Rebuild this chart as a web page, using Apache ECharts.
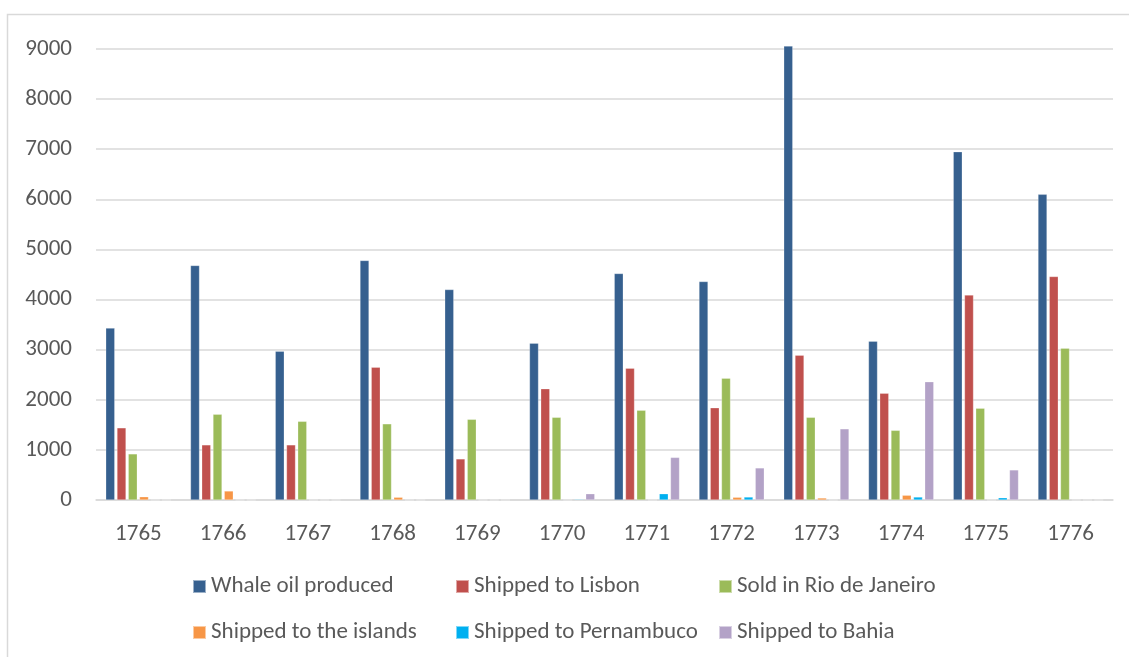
<!DOCTYPE html>
<html>
<head>
<meta charset="utf-8">
<script src="https://cdn.jsdelivr.net/npm/echarts@6/dist/echarts.min.js"></script>
<style>
  html, body { margin: 0; padding: 0; background: #fff; }
  #chart { width: 1129px; height: 657px; }
</style>
</head>
<body>
<div id="chart"></div>
<script>
// data
const years = ['1765', '1766', '1767', '1768', '1769', '1770', '1771', '1772', '1773', '1774', '1775', '1776']
const whaleOil = [3430, 4680, 2970, 4780, 4200, 3130, 4520, 4360, 9060, 3170, 6950, 6100]
const lisbon = [1440, 1100, 1100, 2650, 820, 2220, 2630, 1840, 2890, 2130, 4090, 4460]
const rio = [920, 1710, 1570, 1520, 1610, 1650, 1790, 2430, 1650, 1390, 1830, 3030]
const islands = [65, 180, 0, 55, 0, 0, 0, 55, 40, 95, 0, 0]
const pernambuco = [0, 0, 0, 0, 0, 15, 125, 60, 0, 60, 45, 0]
const bahia = [0, 0, 0, 0, 0, 125, 850, 640, 1420, 2360, 600, 0]

const seriesNames = ['Whale oil produced', 'Shipped to Lisbon', 'Sold in Rio de Janeiro',
  'Shipped to the islands', 'Shipped to Pernambuco', 'Shipped to Bahia']
const seriesData = [whaleOil, lisbon, rio, islands, pernambuco, bahia]
const colors = ['#36608F', '#C0504D', '#9BBB59', '#F79646', '#00B0F0', '#B3A2C7']

const font = 'Calibri, Carlito, "Liberation Sans", sans-serif'
const textColor = '#595959'

const chartInstance = echarts.init(document.getElementById('chart'))

// legend: 3 columns x 2 rows, one legend per item so the columns line up
const legendLeft = [187, 450, 713]
const legendTop = [570, 616]
const legends = seriesNames.map((name, i) => ({
  data: [name],
  left: legendLeft[i % 3],
  top: legendTop[Math.floor(i / 3)],
  icon: 'rect',
  itemWidth: 13,
  itemHeight: 13,
  textStyle: {
    color: textColor,
    fontSize: 23,
    fontFamily: font
  }
}))

const option = {
  animation: false,
  color: colors,
  graphic: [
    {
      type: 'rect',
      shape: { x: 7.5, y: 14.5, width: 1130, height: 660 },
      style: { fill: 'none', stroke: '#d9d9d9', lineWidth: 1.5 },
      silent: true
    }
  ],
  grid: {
    left: 96,
    right: 16,
    top: 49,
    bottom: 157
  },
  legend: legends,
  xAxis: {
    type: 'category',
    data: years,
    axisLine: { lineStyle: { color: '#d9d9d9', width: 1.5 } },
    axisTick: { show: false },
    axisLabel: {
      color: textColor,
      fontSize: 23,
      fontFamily: font,
      margin: 23
    }
  },
  yAxis: {
    type: 'value',
    min: 0,
    max: 9000,
    interval: 1000,
    axisLine: { show: false },
    axisTick: { show: false },
    axisLabel: {
      color: textColor,
      fontSize: 23,
      fontFamily: font,
      margin: 24,
      formatter: v => String(v)
    },
    splitLine: { lineStyle: { color: '#d9d9d9', width: 1.5 } }
  },
  series: seriesNames.map((name, i) => ({
    name: name,
    type: 'bar',
    data: seriesData[i],
    barWidth: 9,
    barGap: '25%',
    clip: false,
    itemStyle: {
      color: colors[i],
      borderColor: 'rgba(255,255,255,0.5)',
      borderWidth: 0.5
    }
  }))
}

chartInstance.setOption(option)
</script>
</body>
</html>
